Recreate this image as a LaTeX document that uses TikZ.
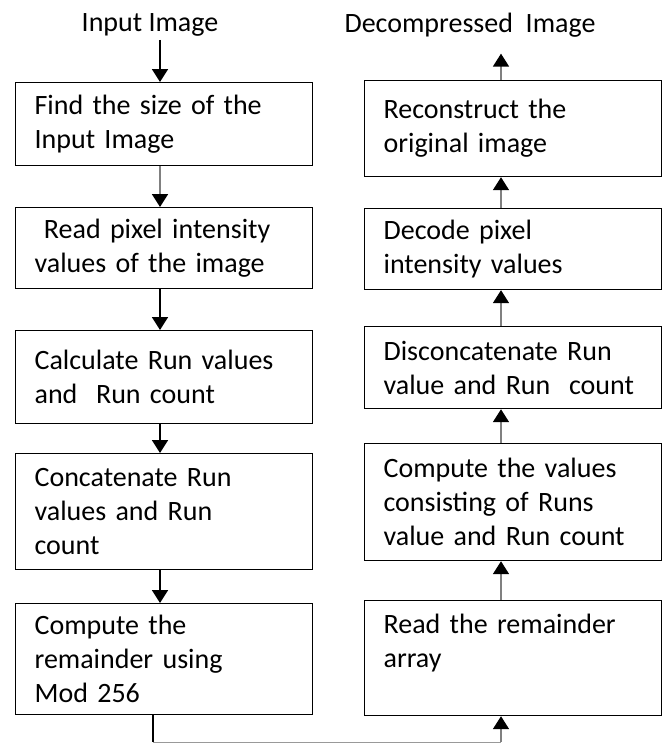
\documentclass[tikz,border=0pt]{standalone}
\usepackage{fontspec}
\setmainfont{Carlito}
\usetikzlibrary{arrows.meta}

\begin{document}
\begin{tikzpicture}[x=1pt,y=-1pt,
  box/.style={draw,line width=1.2pt,anchor=north west,minimum width=297pt,
    text width=259pt,inner xsep=19pt,align=left,font=\fontsize{28}{34}\selectfont},
  ttl/.style={font=\fontsize{28}{34}\selectfont},
  flow/.style={line width=1.8pt,-{Triangle[width=16pt,length=13pt,color=black]}},
  greyflow/.style={flow,draw=black!50}]
\useasboundingbox (0,0) rectangle (667,753);

\coordinate (lc) at (160,0);
\coordinate (rc) at (501,0);
\coordinate (lo) at (153,742);
\coordinate (ro) at (501,742);

\node[ttl] (in) at (150,25) {Input Image};
\node[ttl] (out) at (470,25) {Decompressed\ \ Image};

\node[box,minimum height=83pt] (find) at (15,82) {Find the size of the\\Input Image};
\node[box,minimum height=81pt] (read) at (15,207) {\ Read pixel intensity\\values of the image};
\node[box,minimum height=93pt] (calc) at (15,330) {Calculate Run values\\and\ \ Run count};
\node[box,minimum height=116pt] (conc) at (15,453) {Concatenate Run\\values and Run\\count};
\node[box,minimum height=111pt] (mod) at (15,603) {Compute the\\remainder using\\Mod 256};

\node[box,minimum height=96pt] (recon) at (364,80) {Reconstruct the\\original image};
\node[box,minimum height=81pt] (decode) at (364,208) {Decode pixel\\intensity values};
\node[box,minimum height=82pt] (disc) at (364,326) {Disconcatenate Run\\value and Run\ \ count};
\node[box,minimum height=117pt] (runs) at (364,443) {Compute the values\\consisting of Runs\\value and Run count};
\node[box,minimum height=115pt] (rem) at (364,600) {Read the remainder\\array\\\mbox{}};

\draw[flow] (in.south -| lc) -- (find.north -| lc);
\draw[greyflow] (find.south -| lc) -- (read.north -| lc);
\draw[flow] (read.south -| lc) -- (calc.north -| lc);
\draw[flow] (calc.south -| lc) -- (conc.north -| lc);
\draw[flow] (conc.south -| lc) -- (mod.north -| lc);

\draw[line width=1.5pt] (mod.south -| lo) -- (lo);
\draw[line width=1pt,black!40] (lo) -- (ro);
\draw[greyflow] (ro) -- (rem.south -| rc);
\draw[greyflow] (rem.north -| rc) -- (runs.south -| rc);
\draw[greyflow] (runs.north -| rc) -- (disc.south -| rc);
\draw[greyflow] (disc.north -| rc) -- (decode.south -| rc);
\draw[greyflow] (decode.north -| rc) -- (recon.south -| rc);
\draw[greyflow,shorten >=13pt] (recon.north -| rc) -- (out.south -| rc);
\end{tikzpicture}
\end{document}
